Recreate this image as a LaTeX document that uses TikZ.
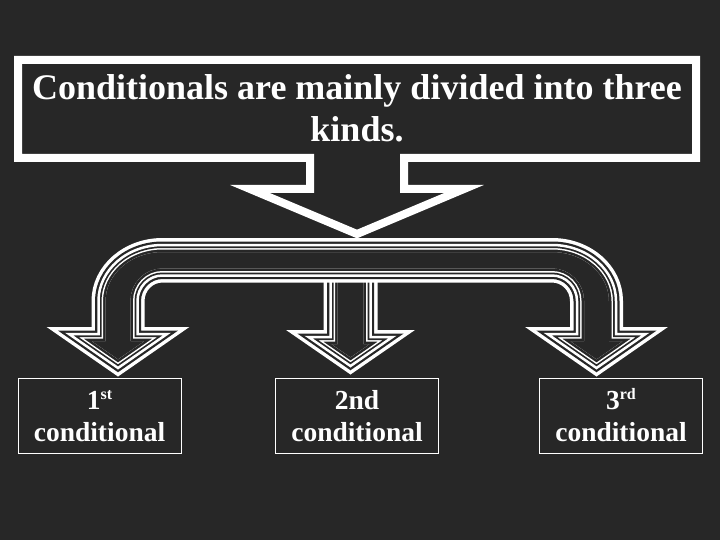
\documentclass[tikz,border=0pt]{standalone}
\usepackage{fontspec}
\setmainfont{Liberation Serif}
\definecolor{bg}{HTML}{272727}
\newcommand\triline[2]{%
  \draw[white, line width=14pt] #1;
  \draw[bg, line width=7pt] #1;
  \begin{scope}
    \clip #2;
    \draw[bg, line width=14pt] #1;
    \draw[white, line width=9pt] #1;
    \draw[bg, line width=6pt] #1;
  \end{scope}
  \draw[white, line width=2.5pt] #1;
}
\newcommand\supx[1]{\raisebox{9.5pt}{\fontsize{16}{16}\selectfont #1}}
\begin{document}
\begin{tikzpicture}[x=1pt, y=1pt, line join=miter,
  titletext/.style={text=white, font=\fontsize{36}{43}\selectfont\bfseries, inner sep=0pt, anchor=base},
  boxtext/.style={text=white, font=\fontsize{27.5}{33}\selectfont\bfseries, inner sep=0pt, anchor=base},
  kindbox/.style={draw=white, line width=1pt, minimum width=163pt, minimum height=75pt, inner sep=0pt}]
\fill[bg] (0,0) rectangle (720,-540);
\useasboundingbox (0,0) rectangle (720,-540);

% middle arrow
\triline{(330.5,-270) -- (330.5,-337) -- (308.5,-337) -- (350.5,-366) -- (392.5,-337) -- (370.5,-337) -- (370.5,-270)}
        {(330.5,-270) -- (330.5,-337) -- (308.5,-337) -- (350.5,-366) -- (392.5,-337) -- (370.5,-337) -- (370.5,-270) -- cycle}

% branching arrow
\def\branch{(98.5,-334) -- (98.5,-301) arc[start angle=180,end angle=90,x radius=64pt,y radius=56pt] -- (552,-245) arc[start angle=90,end angle=0,x radius=64pt,y radius=56pt] -- (616,-334) -- (645.5,-334) -- (596.5,-368) -- (547.5,-334) -- (577,-334) -- (577,-301) arc[start angle=0,end angle=90,x radius=25pt,y radius=25.5pt] -- (162.5,-275.5) arc[start angle=90,end angle=180,x radius=25pt,y radius=25.5pt] -- (137.5,-334) -- (167,-334) -- (118,-368) -- (69,-334) -- cycle}
\triline{\branch}{\branch}

% callout
\draw[white, line width=8pt, fill=bg] (310,-158) -- (18,-158) -- (18,-60) -- (696,-60) -- (696,-158) -- (404,-158) -- (404,-189) -- (464,-189) -- (357,-234) -- (250,-189) -- (310,-189) -- cycle;
\node[titletext] (t1) at (357,-100) {Conditionals are mainly divided into three};
\node[titletext] (t2) at (357,-142) {kinds.};

% boxes
\node[kindbox] (b1) at (99.5,-415.5) {};
\node[kindbox] (b2) at (357,-415.5) {};
\node[kindbox] (b3) at (621,-415.5) {};
\node[boxtext] (b1a) at (99.5,-409.3) {1\supx{st}};
\node[boxtext] (b1b) at (99.5,-441.7) {conditional};
\node[boxtext] (b2a) at (357,-409.3) {2nd};
\node[boxtext] (b2b) at (357,-441.7) {conditional};
\node[boxtext] (b3a) at (621,-409.3) {3\supx{rd}};
\node[boxtext] (b3b) at (621,-441.7) {conditional};
\end{tikzpicture}
\end{document}
